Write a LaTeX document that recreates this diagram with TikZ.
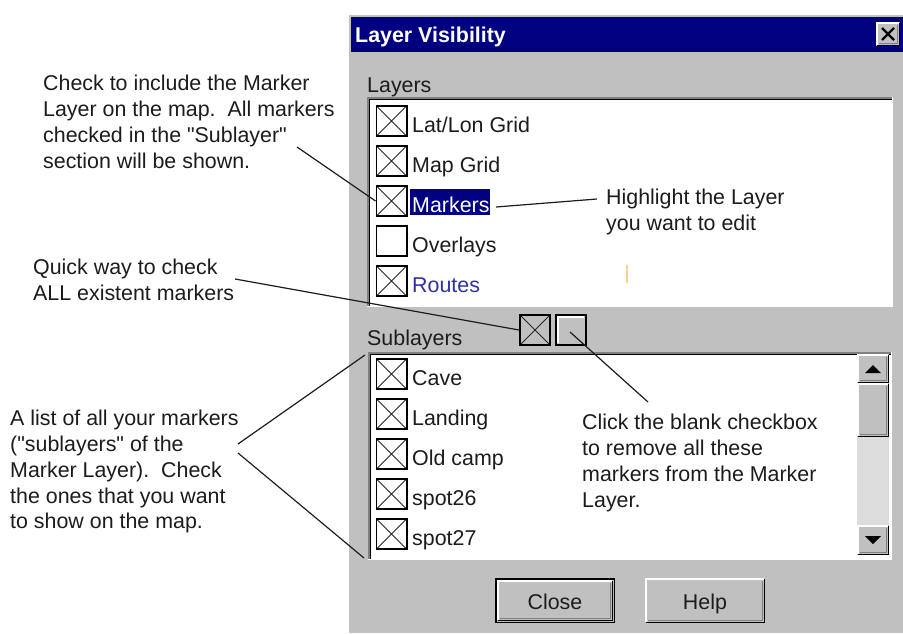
\documentclass[tikz,border=0pt]{standalone}
\usepackage{fontspec}
\setmainfont{Liberation Sans}
\definecolor{panel}{HTML}{C0C0C0}
\definecolor{navy}{HTML}{000080}
\definecolor{txt}{HTML}{1C1C1C}
\definecolor{dgray}{HTML}{808080}
\definecolor{routeblue}{HTML}{3030A0}
\definecolor{dither}{HTML}{DCDCDC}
\definecolor{faint}{HTML}{F5D090}
\newcommand\bevelrect[4]{%
  \fill[panel] (#1,#2) rectangle (#3,#4);
  \draw[white,line width=1.5pt] (#1+1,#4-1) -- (#1+1,#2+1) -- (#3-1,#2+1);
  \draw[black,line width=1.5pt] (#1+0.75,#4-0.75) -- (#3-0.75,#4-0.75) -- (#3-0.75,#2+0.75);
  \draw[dgray,line width=1.5pt] (#1+2.5,#4-2.5) -- (#3-2.5,#4-2.5) -- (#3-2.5,#2+2.5);
}
\newcommand\sunkenlist[4]{%
  \fill[white] (#1,#2) rectangle (#3,#4);
  \draw[dgray,line width=1.5pt] (#1+0.75,#4) -- (#1+0.75,#2+0.75) -- (#3,#2+0.75);
  \draw[black,line width=1.5pt] (#1+2.25,#4-1.5) -- (#1+2.25,#2+2.25) -- (#3-1.5,#2+2.25);
  \draw[white,line width=1.5pt] (#1,#4-0.75) -- (#3-0.75,#4-0.75) -- (#3-0.75,#2);
}
\tikzset{
  cbase/.style={draw=black, line width=1.6pt, fill=white, minimum size=30.4pt, inner sep=0pt},
  cbox/.style={cbase, path picture={\draw[line width=0.9pt, black!85]
     (path picture bounding box.north west) -- (path picture bounding box.south east)
     (path picture bounding box.north east) -- (path picture bounding box.south west);}},
  ebox/.style={cbase},
  item/.style={anchor=base west, inner sep=0pt, text=txt},
  note/.style={anchor=north west, inner sep=0pt, align=left, text=txt,
     font=\fontsize{21.4}{25.8}\selectfont},
  callout/.style={draw=txt, line width=1.2pt},
}
\begin{document}
\begin{tikzpicture}[x=1pt,y=-1pt,font=\fontsize{21.4}{25.8}\selectfont]
\useasboundingbox (0,0) rectangle (903,633);
\fill[white] (0,0) rectangle (903,633);
% dialog panel
\fill[panel] (349,15) rectangle (903,633);
\fill[navy] (351,17) rectangle (903,52);
\node[anchor=base west, inner sep=0pt, text=white, font=\fontsize{21.4}{25}\selectfont\bfseries] (title) at (355,42) {Layer Visibility};
\bevelrect{876}{22}{900}{46}
\node[minimum width=24pt, minimum height=24pt, inner sep=0pt] (xbtn) at (888,34) {};
\draw[black,line width=2.4pt] (882,28) -- (894,40) (894,28) -- (882,40);
% Layers list
\node[item] (laylbl) at (367,92) {Layers};
\sunkenlist{367}{97}{893}{307}
\node[cbox] (c1) at (391.5,121) {};
\node[cbox] (c2) at (391.5,161) {};
\node[cbox] (c3) at (391.5,201) {};
\node[ebox] (c4) at (391.5,241) {};
\node[cbox] (c5) at (391.5,281) {};
\node[item] (l1) at (412,132) {Lat/Lon Grid};
\node[item] (l2) at (412,172) {Map Grid};
\fill[navy] (410,189) rectangle (490,215);
\node[item, text=white] (l3) at (412,212) {Markers};
\node[item] (l4) at (412,252) {Overlays};
\node[item, text=routeblue] (l5) at (412,292) {Routes};
\draw[faint,line width=1.5pt] (627,265) -- (627,283);
% Sublayers
\node[item] (sublbl) at (367,345) {Sublayers};
\node[cbase, fill=panel, minimum size=30.4pt, path picture={\draw[line width=0.9pt, black!85]
     (path picture bounding box.north west) -- (path picture bounding box.south east)
     (path picture bounding box.north east) -- (path picture bounding box.south west);}] (allon) at (535,330) {};
\node[cbase, fill=panel] (alloff) at (571,330) {};
\draw[white,line width=1.2pt] (558,343) -- (558,317) -- (584,317);
\sunkenlist{368}{352}{892}{560}
\node[cbox] (s1) at (391.5,374) {};
\node[cbox] (s2) at (391.5,414) {};
\node[cbox] (s3) at (391.5,454) {};
\node[cbox] (s4) at (391.5,494) {};
\node[cbox] (s5) at (391.5,534) {};
\node[item] (m1) at (412,385) {Cave};
\node[item] (m2) at (412,425) {Landing};
\node[item] (m3) at (412,465) {Old camp};
\node[item] (m4) at (412,505) {spot26};
\node[item] (m5) at (412,545) {spot27};
% scrollbar
\fill[dither] (857,437) rectangle (889,525);
\bevelrect{857}{354}{889}{383}
\bevelrect{857}{383}{889}{437}
\bevelrect{857}{525}{889}{555}
\fill[black] (865,373) -- (881,373) -- (873,365) -- cycle;
\fill[black] (865,536) -- (881,536) -- (873,544) -- cycle;
% buttons
\draw[black,line width=1.5pt] (495.75,578.75) rectangle (614.25,622.25);
\bevelrect{497}{580}{613}{621}
\node[anchor=base, inner sep=0pt, text=txt] (closebtn) at (555,609) {Close};
\bevelrect{645}{578}{765}{623}
\node[anchor=base, inner sep=0pt, text=txt] (helpbtn) at (705,609) {Help};
% annotations
\node[note] (n1) at (43,75) {Check to include the Marker\\Layer on the map.\ \ All markers\\checked in the \textquotedbl Sublayer\textquotedbl\\section will be shown.};
\node[note] (n2) at (606,189) {Highlight the Layer\\you want to edit};
\node[note] (n3) at (33,259) {Quick way to check\\ALL existent markers};
\node[note] (n4) at (10,410) {A list of all your markers\\(\textquotedbl sublayers\textquotedbl\ of the\\Marker Layer).\ \ Check\\the ones that you want\\to show on the map.};
\node[note] (n5) at (582,414) {Click the blank checkbox\\to remove all these\\markers from the Marker\\Layer.};
% connector endpoints
\coordinate (a1) at (297,147);
\coordinate (a2) at (496,207);
\coordinate (a3) at (597,199);
\coordinate (a4) at (235,279);
\coordinate (a5) at (570,332);
\coordinate (a6) at (648,402);
\coordinate (a7) at (238,444);
\coordinate (a8) at (365,355);
\coordinate (a9) at (238,453);
\coordinate (a10) at (364,558);
\draw[callout] (a1) -- (c3.west);
\draw[callout] (a2) -- (a3);
\draw[callout] (a4) -- (allon.west);
\draw[callout] (a5) -- (a6);
\draw[callout] (a8) -- (a7);
\draw[callout] (a9) -- (a10);
\end{tikzpicture}
\end{document}
